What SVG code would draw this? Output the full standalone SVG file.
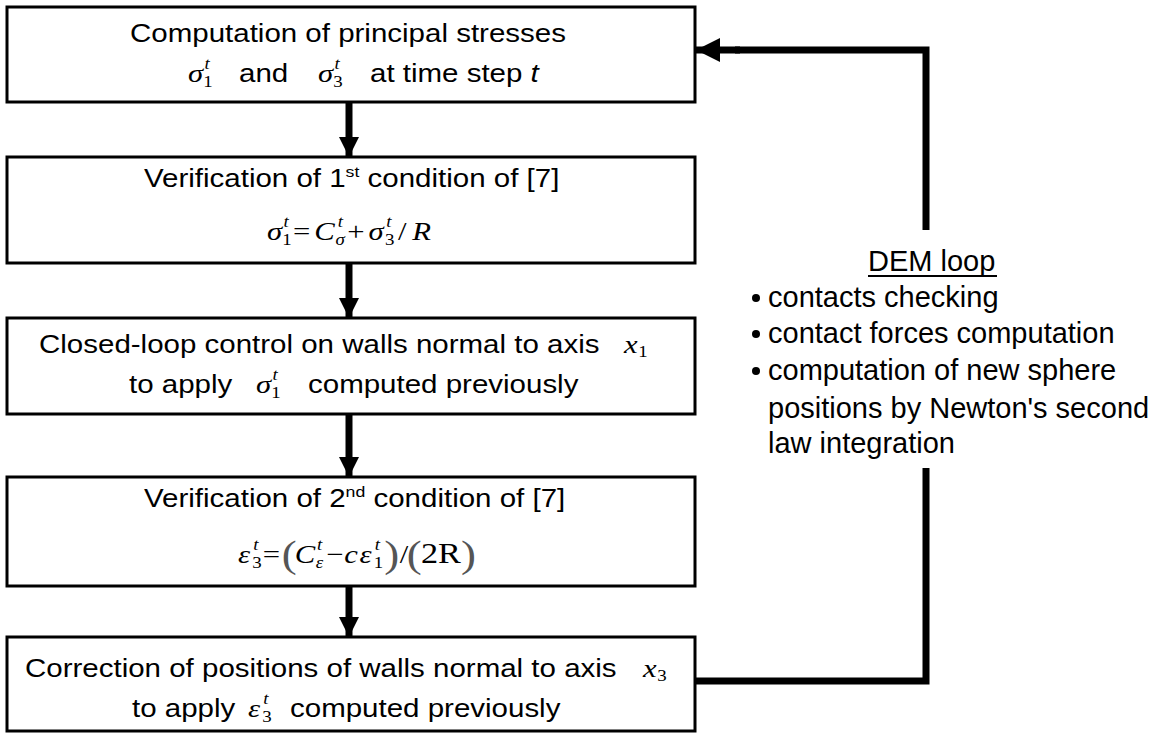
<svg xmlns="http://www.w3.org/2000/svg" width="1161" height="734" viewBox="0 0 1161 734">
<defs>
<style>
.box{fill:#fff;stroke:#000;stroke-width:3}
.t{font-family:"Liberation Sans",Arial,sans-serif;font-size:25px;fill:#000}
.r{font-family:"Liberation Sans",Arial,sans-serif;font-size:29px;fill:#000}
.m{font-family:"Liberation Serif","Times New Roman",serif;font-size:26px;font-style:italic;fill:#000}
.n{font-style:normal}
.s{font-size:16px}
.p{font-style:normal;font-size:38px;fill:#555}
.line{stroke:#000;stroke-width:7;fill:none}
</style>
<marker id="ah" viewBox="0 0 10 10" refX="10" refY="5" markerWidth="22" markerHeight="20" markerUnits="userSpaceOnUse" orient="auto"><path d="M0,0 L10,5 L0,10 z" fill="#000"/></marker>
<marker id="ahL" viewBox="0 0 10 10" refX="10" refY="5" markerWidth="44" markerHeight="24" markerUnits="userSpaceOnUse" orient="auto"><path d="M0,0 L10,5 L0,10 z" fill="#000"/></marker>
</defs>
<rect width="1161" height="734" fill="#fff"/>
<g id="connectors">
<line class="line" x1="349" y1="102" x2="349" y2="157" marker-end="url(#ah)"/>
<line class="line" x1="349" y1="264" x2="349" y2="318" marker-end="url(#ah)"/>
<line class="line" x1="349" y1="415" x2="349" y2="477" marker-end="url(#ah)"/>
<line class="line" x1="349" y1="587" x2="349" y2="637" marker-end="url(#ah)"/>
<polyline class="line" points="926,230 926,50 735,50"/>
<line class="line" x1="740" y1="50" x2="696" y2="50" marker-end="url(#ahL)" stroke-width="1"/>
<polyline class="line" points="696,681 926,681 926,468"/>
</g>
<g id="n1">
<rect class="box" x="7" y="7" width="688" height="95"/>
<text class="t" transform="translate(130,42) scale(1.18,1)">Computation of principal stresses</text>
<text class="m" transform="translate(188,82) scale(1.18,1)">σ<tspan class="s n" x="13" y="5">1</tspan><tspan class="s" x="14" y="-13">t</tspan></text>
<text class="t" transform="translate(239,82) scale(1.18,1)">and</text>
<text class="m" transform="translate(318,82) scale(1.18,1)">σ<tspan class="s n" x="13" y="5">3</tspan><tspan class="s" x="14" y="-13">t</tspan></text>
<text class="t" transform="translate(370,82) scale(1.18,1)">at time step <tspan font-style="italic">t</tspan></text>
</g>
<g id="n2">
<rect class="box" x="7" y="157" width="688" height="106"/>
<text class="t" transform="translate(144,187) scale(1.18,1)">Verification of 1<tspan font-size="15" dy="-10">st</tspan><tspan dy="10"> condition of [7]</tspan></text>
<text class="m" transform="translate(267,240) scale(1.18,1)">σ<tspan class="s n" x="13" y="5">1</tspan><tspan class="s" x="14" y="-13">t</tspan><tspan class="n" x="22" y="0">=</tspan><tspan x="40" y="0">C</tspan><tspan class="s" x="58" y="5">σ</tspan><tspan class="s" x="60" y="-13">t</tspan><tspan class="n" x="68" y="0">+</tspan><tspan x="86" y="0">σ</tspan><tspan class="s n" x="100" y="5">3</tspan><tspan class="s" x="101" y="-13">t</tspan><tspan class="n" x="111" y="0">/</tspan><tspan x="123" y="0">R</tspan></text>
</g>
<g id="n3">
<rect class="box" x="7" y="318" width="688" height="96"/>
<text class="t" transform="translate(39,353) scale(1.18,1)">Closed-loop control on walls normal to axis</text>
<text class="m" transform="translate(624,353) scale(1.18,1)">x<tspan class="s n" x="12" y="4">1</tspan></text>
<text class="t" transform="translate(129,393) scale(1.18,1)">to apply</text>
<text class="m" transform="translate(256,393) scale(1.18,1)">σ<tspan class="s n" x="13" y="5">1</tspan><tspan class="s" x="14" y="-13">t</tspan></text>
<text class="t" transform="translate(308,393) scale(1.18,1)">computed previously</text>
</g>
<g id="n4">
<rect class="box" x="7" y="477" width="688" height="109"/>
<text class="t" transform="translate(144,507) scale(1.18,1)">Verification of 2<tspan font-size="15" dy="-10">nd</tspan><tspan dy="10"> condition of [7]</tspan></text>
<text class="m" transform="translate(238,563) scale(1.18,1)">ε<tspan class="s n" x="12" y="5">3</tspan><tspan class="s" x="13" y="-13">t</tspan><tspan class="n" x="21" y="0">=</tspan><tspan class="p" x="37" y="4">(</tspan><tspan x="48" y="0">C</tspan><tspan class="s" x="66" y="5">ε</tspan><tspan class="s" x="67" y="-13">t</tspan><tspan class="n" x="75" y="0">−</tspan><tspan x="90" y="0">c</tspan><tspan x="103" y="0">ε</tspan><tspan class="s n" x="115" y="5">1</tspan><tspan class="s" x="116" y="-13">t</tspan><tspan class="p" x="124" y="4">)</tspan><tspan class="n" x="137" y="0">/</tspan><tspan class="p" x="143" y="4">(</tspan><tspan class="n" x="155" y="0" font-size="29">2R</tspan><tspan class="p" x="189" y="4">)</tspan></text>
</g>
<g id="n5">
<rect class="box" x="7" y="637" width="688" height="94"/>
<text class="t" transform="translate(25,677) scale(1.18,1)">Correction of positions of walls normal to axis</text>
<text class="m" transform="translate(643,677) scale(1.18,1)">x<tspan class="s n" x="12" y="4">3</tspan></text>
<text class="t" transform="translate(132,717) scale(1.18,1)">to apply</text>
<text class="m" transform="translate(248,717) scale(1.18,1)">ε<tspan class="s n" x="12" y="5">3</tspan><tspan class="s" x="13" y="-13">t</tspan></text>
<text class="t" transform="translate(290,717) scale(1.18,1)">computed previously</text>
</g>
<g id="dem">
<text class="r" x="868" y="271">DEM loop</text>
<line x1="868" y1="276" x2="997" y2="276" stroke="#000" stroke-width="2"/>
<circle cx="756" cy="298" r="4"/>
<circle cx="756" cy="334" r="4"/>
<circle cx="756" cy="371" r="4"/>
<text class="r" x="768" y="307">contacts checking</text>
<text class="r" x="768" y="343">contact forces computation</text>
<text class="r" x="768" y="380">computation of new sphere</text>
<text class="r" x="768" y="418">positions by Newton's second</text>
<text class="r" x="768" y="453">law integration</text>
</g>
</svg>
